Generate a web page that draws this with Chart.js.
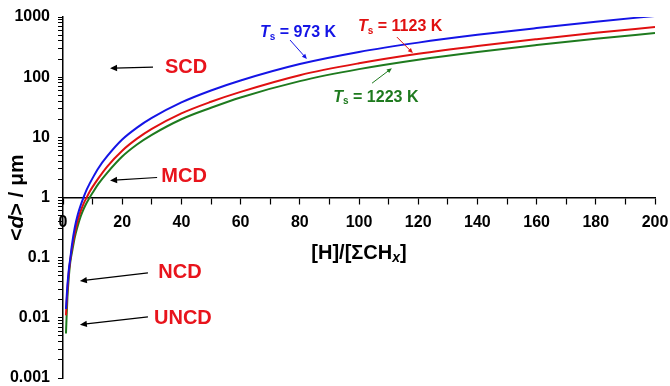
<!DOCTYPE html>
<html lang="en">
<head>
    <meta charset="UTF-8">
    <title>Grain size vs [H]/[ΣCHx]</title>
    <script src="https://cdn.jsdelivr.net/npm/chart.js"></script>
    <style>
        html, body {
            margin: 0;
            padding: 0;
            background: #fff;
        }
        .chart-container {
            position: relative;
            width: 670px;
            height: 386px;
        }
    </style>
</head>
<body>
    <div class="chart-container">
        <canvas id="grainChart"></canvas>
    </div>

    <script>
        // Data
        var ratio = [1, 1.5, 2, 2.5, 3, 4, 5, 6, 7, 8, 9, 10, 12, 15, 20, 25, 30, 40, 50, 60, 80, 100, 120, 140, 160, 180, 200];
        var d973 = [0.014, 0.035, 0.065, 0.1, 0.16, 0.32, 0.52, 0.75, 1.02, 1.35, 1.7, 2.1, 3.1, 4.9, 9.2, 14.5, 21, 38, 60, 88, 165, 262, 375, 505, 655, 835, 1040];
        var d1123 = [0.011, 0.03, 0.06, 0.095, 0.14, 0.26, 0.42, 0.6, 0.8, 1.0, 1.25, 1.5, 2.1, 3.3, 6.0, 9.5, 13.8, 25, 39, 57, 108, 170, 245, 330, 428, 545, 680];
        var d1223 = [0.0055, 0.022, 0.05, 0.088, 0.12, 0.22, 0.34, 0.49, 0.65, 0.82, 1.0, 1.2, 1.7, 2.6, 4.8, 7.6, 11, 20, 31, 46, 86, 136, 195, 263, 342, 437, 540];
        var seriesNames = ['973 K', '1123 K', '1223 K'];
        var seriesColors = ['#1414e6', '#e01010', '#1e7a1e'];

        var yDecades = [0.001, 0.01, 0.1, 1, 10, 100, 1000];
        var yTickLabels = ['0.001', '0.01', '0.1', '1', '10', '100', '1000'];

        // Text labels placed in data coordinates
        var regimeLabels = [
            { text: 'SCD',  x: 41.6, y: 147 },
            { text: 'MCD',  x: 40.9, y: 2.2 },
            { text: 'NCD',  x: 39.5, y: 0.056 },
            { text: 'UNCD', x: 40.5, y: 0.0096 }
        ];
        var regimeArrows = [
            { x1: 30.4, y1: 147,   x2: 15.9, y2: 141 },
            { x1: 31.8, y1: 2.15,  x2: 15.9, y2: 1.92 },
            { x1: 28.7, y1: 0.056, x2: 5.7,  y2: 0.041 },
            { x1: 28.7, y1: 0.0104, x2: 5.7, y2: 0.0077 }
        ];
        var tempLabels = [
            { x: 79.4,  y: 541,  ax1: 76.7,  ay1: 414,  ax2: 82.4,  ay2: 200 },
            { x: 113.9, y: 681,  ax1: 112.8, ay1: 464,  ax2: 118.2, ay2: 251 },
            { x: 105.7, y: 46.4, ax1: 104.4, ay1: 79.4, ax2: 111.1, ay2: 141 }
        ];

        var FONT = 'Arial, "Liberation Sans", sans-serif';

        function drawRich(ctx, parts, cx, cy) {
            var total = 0;
            parts.forEach(function (p) {
                ctx.font = p.font;
                p.w = ctx.measureText(p.t).width;
                total += p.w;
            });
            var x = cx - total / 2;
            parts.forEach(function (p) {
                ctx.font = p.font;
                ctx.fillText(p.t, x, cy + (p.dy || 0));
                x += p.w;
            });
        }

        function drawArrow(ctx, x1, y1, x2, y2, color, width, head) {
            var ang = Math.atan2(y2 - y1, x2 - x1);
            ctx.strokeStyle = color;
            ctx.fillStyle = color;
            ctx.lineWidth = width;
            ctx.beginPath();
            ctx.moveTo(x1, y1);
            ctx.lineTo(x2 - Math.cos(ang) * head * 0.6, y2 - Math.sin(ang) * head * 0.6);
            ctx.stroke();
            ctx.beginPath();
            ctx.moveTo(x2, y2);
            ctx.lineTo(x2 - head * Math.cos(ang) + head * 0.45 * Math.sin(ang),
                       y2 - head * Math.sin(ang) - head * 0.45 * Math.cos(ang));
            ctx.lineTo(x2 - head * Math.cos(ang) - head * 0.45 * Math.sin(ang),
                       y2 - head * Math.sin(ang) + head * 0.45 * Math.cos(ang));
            ctx.closePath();
            ctx.fill();
        }

        var annotationPlugin = {
            id: 'annotations',
            afterDatasetsDraw: function (chart) {
                var ctx = chart.ctx;
                var xs = chart.scales.x, ys = chart.scales.y;
                var area = chart.chartArea;
                ctx.save();
                ctx.textBaseline = 'middle';

                // regime labels and arrows
                regimeArrows.forEach(function (a) {
                    drawArrow(ctx, xs.getPixelForValue(a.x1), ys.getPixelForValue(a.y1),
                              xs.getPixelForValue(a.x2), ys.getPixelForValue(a.y2), '#000', 1.2, 7);
                });
                ctx.fillStyle = '#e8141c';
                regimeLabels.forEach(function (l) {
                    drawRich(ctx, [{ t: l.text, font: 'bold 20px ' + FONT }],
                             xs.getPixelForValue(l.x), ys.getPixelForValue(l.y));
                });

                // temperature labels
                tempLabels.forEach(function (l, i) {
                    drawArrow(ctx, xs.getPixelForValue(l.ax1), ys.getPixelForValue(l.ay1),
                              xs.getPixelForValue(l.ax2), ys.getPixelForValue(l.ay2), seriesColors[i], 1, 5);
                    ctx.fillStyle = seriesColors[i];
                    drawRich(ctx, [
                        { t: 'T', font: 'italic bold 16px ' + FONT },
                        { t: 's', font: 'bold 10px ' + FONT, dy: 4 },
                        { t: ' = ' + seriesNames[i], font: 'bold 16px ' + FONT }
                    ], xs.getPixelForValue(l.x), ys.getPixelForValue(l.y));
                });

                // x axis title, under the axis drawn at d = 1
                ctx.fillStyle = '#000';
                var axisY = ys.getPixelForValue(1);
                drawRich(ctx, [
                    { t: '[H]/[ΣCH', font: 'bold 20px ' + FONT },
                    { t: 'x', font: 'italic bold 14px ' + FONT, dy: 5 },
                    { t: ']', font: 'bold 20px ' + FONT }
                ], (area.left + area.right) / 2, axisY + 56);

                // y axis title
                ctx.translate(17, (area.top + area.bottom) / 2);
                ctx.rotate(-Math.PI / 2);
                drawRich(ctx, [
                    { t: '<', font: 'bold 21px ' + FONT },
                    { t: 'd', font: 'italic bold 21px ' + FONT },
                    { t: '> / μm', font: 'bold 21px ' + FONT }
                ], 0, 0);
                ctx.restore();
            }
        };

        var datasets = [d973, d1123, d1223].map(function (vals, i) {
            return {
                label: 'Ts = ' + seriesNames[i],
                data: ratio.map(function (r, j) { return { x: r, y: vals[j] }; }),
                borderColor: seriesColors[i],
                borderWidth: 2,
                pointRadius: 0,
                fill: false,
                cubicInterpolationMode: 'monotone'
            };
        });

        var ctx = document.getElementById('grainChart').getContext('2d');
        var grainChart = new Chart(ctx, {
            type: 'line',
            data: { datasets: datasets },
            options: {
                responsive: true,
                maintainAspectRatio: false,
                animation: false,
                layout: {
                    padding: { left: 0, right: 15, top: 17, bottom: 8 }
                },
                plugins: {
                    legend: { display: false },
                    tooltip: { enabled: false }
                },
                scales: {
                    x: {
                        type: 'linear',
                        min: 0,
                        max: 200,
                        position: { y: 1 },
                        border: { display: true, color: '#000', width: 1.5 },
                        grid: {
                            drawOnChartArea: false,
                            drawTicks: true,
                            tickLength: 6,
                            tickColor: '#000',
                            tickWidth: 1.2
                        },
                        afterFit: function (scale) {
                            scale.height = 0;
                            scale.paddingLeft = 0;
                            scale.paddingRight = 0;
                        },
                        ticks: {
                            stepSize: 10,
                            autoSkip: false,
                            maxRotation: 0,
                            padding: 9,
                            color: '#000',
                            font: { family: FONT, size: 16, weight: 'bold' },
                            callback: function (v) { return v % 20 === 0 ? String(v) : ' '; }
                        }
                    },
                    y: {
                        type: 'logarithmic',
                        min: 0.001,
                        max: 1000,
                        border: { display: true, color: '#000', width: 1.5 },
                        grid: {
                            drawOnChartArea: false,
                            drawTicks: true,
                            tickLength: 5,
                            tickColor: '#000',
                            tickWidth: 1
                        },
                        afterBuildTicks: function (scale) {
                            var ticks = [];
                            yDecades.forEach(function (dec, k) {
                                ticks.push({ value: dec, major: true });
                                if (k < yDecades.length - 1) {
                                    for (var m = 2; m <= 9; m++) {
                                        ticks.push({ value: dec * m, major: false });
                                    }
                                }
                            });
                            scale.ticks = ticks;
                        },
                        afterFit: function (scale) {
                            scale.width = 63;
                            scale.paddingTop = 0;
                            scale.paddingBottom = 0;
                        },
                        ticks: {
                            autoSkip: false,
                            padding: 8,
                            color: '#000',
                            font: { family: FONT, size: 16, weight: 'bold' },
                            callback: function (v) {
                                for (var k = 0; k < yDecades.length; k++) {
                                    if (Math.abs(v - yDecades[k]) < yDecades[k] * 1e-6) return yTickLabels[k];
                                }
                                return ' ';
                            }
                        }
                    }
                }
            },
            plugins: [annotationPlugin]
        });
    </script>
</body>
</html>
